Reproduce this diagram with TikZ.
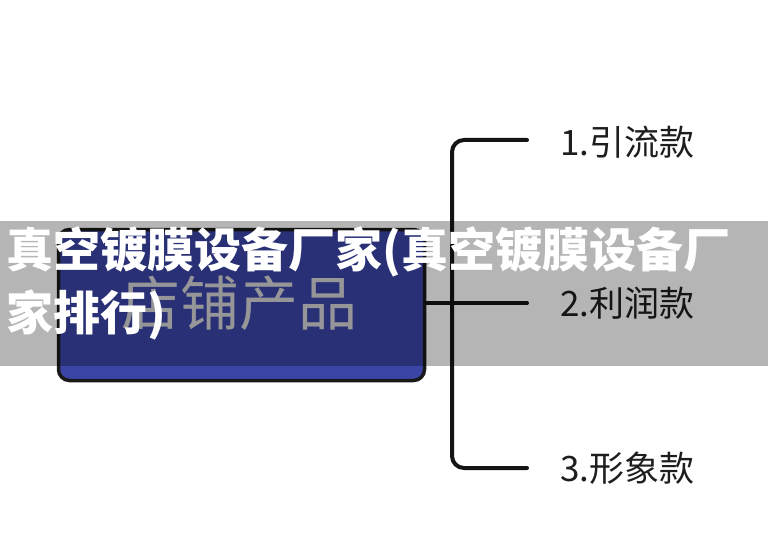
\documentclass[tikz,border=0pt]{standalone}
\usepackage{fontspec}
\newfontfamily\cjk{Noto Sans CJK SC}
\definecolor{boxblue}{HTML}{3A45A6}
\definecolor{boxtext}{HTML}{D4D4D8}
\definecolor{labtext}{HTML}{1E1E1E}
\tikzset{
  mainbox/.style={draw=black!90, line width=3.5pt, fill=boxblue, rounded corners=11pt, minimum width=366pt, minimum height=151pt, inner sep=0pt},
  branchline/.style={draw=black!92, line width=4pt, line cap=round},
  leaf/.style={anchor=west, inner sep=0pt, text=labtext, font=\cjk\fontsize{35}{38}\selectfont},
  titletext/.style={anchor=west, inner sep=0pt, text=white, font=\cjk\bfseries\fontsize{47}{50}\selectfont}
}
\begin{document}
\begin{tikzpicture}[x=1pt,y=-1pt]
\useasboundingbox (0,0) rectangle (768,556);
\fill[white] (0,0) rectangle (768,556);
\node[mainbox] (box) at (241.5,305) {};
\node[inner sep=0pt, text=boxtext, font=\cjk\fontsize{59}{62}\selectfont] (boxlabel) at (239,303) {店铺产品};
\coordinate (top) at (527,140);
\coordinate (mid) at (527,303);
\coordinate (bot) at (527,468);
\draw[branchline, rounded corners=12pt] (top) -- (452,140) -- (452,468) -- (bot);
\draw[branchline] (box.east |- mid) -- (mid);
\node[leaf] (l1) at (560,142) {1.引流款};
\node[leaf] (l2) at (560,303) {2.利润款};
\node[leaf] (l3) at (560,468) {3.形象款};
\fill[black, opacity=0.29] (0,221) rectangle (768,366);
\node[titletext] (t1) at (6,252) {真空镀膜设备厂家(真空镀膜设备厂};
\node[titletext] (t2) at (6,315) {家排行)};
\end{tikzpicture}
\end{document}
